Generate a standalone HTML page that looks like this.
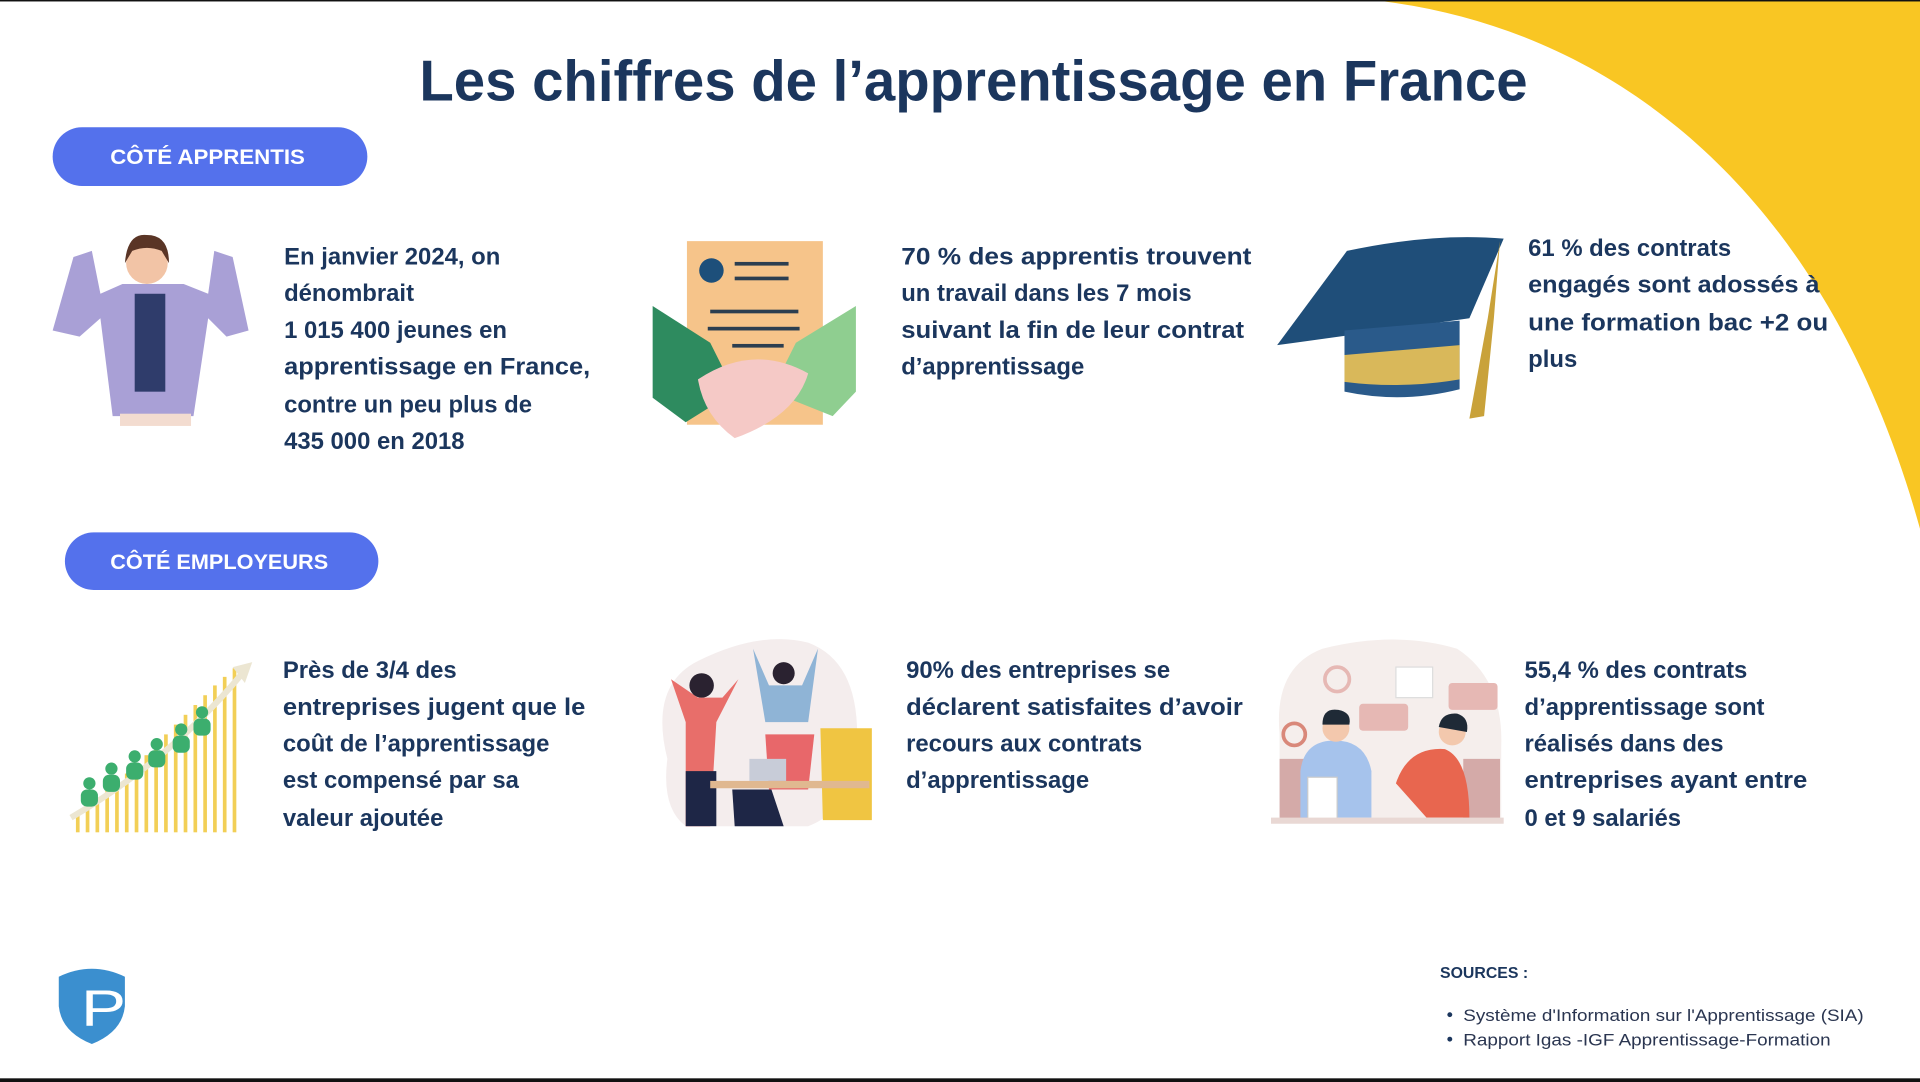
<!DOCTYPE html>
<html><head><meta charset="utf-8"><style>
html,body{margin:0;padding:0;background:#fff;width:1920px;height:1082px;overflow:hidden}
svg{display:block}
text{font-family:"Liberation Sans",sans-serif}
.t{font-size:19.5px;font-weight:bold;fill:#1b365d}
</style></head><body>
<svg width="1920" height="1082" viewBox="0 0 1568 884" preserveAspectRatio="none">
<rect x="0" y="0" width="1568" height="884" fill="#fff"/>
<path d="M1120,0 C1310,20 1490,150 1568,432 L1568,0 Z" fill="#f9c623"/>
<rect x="0" y="0" width="1568" height="1.2" fill="#111"/>
<rect x="0" y="881" width="1568" height="3" fill="#111"/>
<text x="795" y="82" text-anchor="middle" font-size="47" font-weight="bold" fill="#1b365d" textLength="905" lengthAdjust="spacingAndGlyphs">Les chiffres de l’apprentissage en France</text>
<rect x="43" y="104" width="257" height="48" rx="24" fill="#5471ec"/>
<text x="90" y="134" font-size="17" font-weight="bold" fill="#fff" textLength="159" lengthAdjust="spacingAndGlyphs">CÔTÉ APPRENTIS</text>
<rect x="53" y="435" width="256" height="47" rx="23.5" fill="#5471ec"/>
<text x="90" y="465" font-size="17" font-weight="bold" fill="#fff" textLength="178" lengthAdjust="spacingAndGlyphs">CÔTÉ EMPLOYEURS</text>

<g class="t">
<text class="t" x="232" y="216">En janvier 2024, on</text>
<text class="t" x="232" y="246">dénombrait</text>
<text class="t" x="232" y="276">1 015 400 jeunes en</text>
<text class="t" x="232" y="306" textLength="250" lengthAdjust="spacingAndGlyphs">apprentissage en France,</text>
<text class="t" x="232" y="337">contre un peu plus de</text>
<text class="t" x="232" y="367">435 000 en 2018</text>

<text class="t" x="736" y="216" textLength="286" lengthAdjust="spacingAndGlyphs">70 % des apprentis trouvent</text>
<text class="t" x="736" y="246">un travail dans les 7 mois</text>
<text class="t" x="736" y="276" textLength="280" lengthAdjust="spacingAndGlyphs">suivant la fin de leur contrat</text>
<text class="t" x="736" y="306">d’apprentissage</text>

<text class="t" x="1248" y="209">61 % des contrats</text>
<text class="t" x="1248" y="239" textLength="238" lengthAdjust="spacingAndGlyphs">engagés sont adossés à</text>
<text class="t" x="1248" y="270" textLength="245" lengthAdjust="spacingAndGlyphs">une formation bac +2 ou</text>
<text class="t" x="1248" y="300">plus</text>

<text class="t" x="231" y="554">Près de 3/4 des</text>
<text class="t" x="231" y="584" textLength="247" lengthAdjust="spacingAndGlyphs">entreprises jugent que le</text>
<text class="t" x="231" y="614">coût de l’apprentissage</text>
<text class="t" x="231" y="644">est compensé par sa</text>
<text class="t" x="231" y="675">valeur ajoutée</text>

<text class="t" x="740" y="554">90% des entreprises se</text>
<text class="t" x="740" y="584" textLength="275" lengthAdjust="spacingAndGlyphs">déclarent satisfaites d’avoir</text>
<text class="t" x="740" y="614">recours aux contrats</text>
<text class="t" x="740" y="644">d’apprentissage</text>

<text class="t" x="1245" y="554">55,4 % des contrats</text>
<text class="t" x="1245" y="584">d’apprentissage sont</text>
<text class="t" x="1245" y="614">réalisés dans des</text>
<text class="t" x="1245" y="644" textLength="231" lengthAdjust="spacingAndGlyphs">entreprises ayant entre</text>
<text class="t" x="1245" y="675">0 et 9 salariés</text>
</g>

<!-- woman -->
<g>
<path d="M60,210 L75,205 L82,240 L100,232 L150,232 L170,240 L175,205 L190,210 L203,270 L185,275 L170,260 L158,340 L92,340 L82,260 L65,275 L43,270 Z" fill="#a9a0d6"/>
<rect x="110" y="240" width="25" height="80" fill="#2f3c6b"/>
<circle cx="120" cy="215" r="17" fill="#f2c4a6"/>
<path d="M102,215 Q104,190 120,192 Q138,192 138,215 L132,205 Q120,200 108,205 Z" fill="#5a3526"/>
<rect x="98" y="338" width="58" height="10" fill="#f3dcd0"/>
</g>
<!-- handshake -->
<g>
<rect x="561" y="197" width="111" height="150" fill="#f6c48a"/>
<circle cx="581" cy="221" r="10" fill="#1d4f7a"/>
<rect x="600" y="214" width="44" height="3" fill="#2c3e50"/>
<rect x="600" y="226" width="44" height="3" fill="#2c3e50"/>
<rect x="580" y="253" width="72" height="3" fill="#2c3e50"/>
<rect x="578" y="267" width="75" height="3" fill="#2c3e50"/>
<rect x="598" y="281" width="42" height="3" fill="#2c3e50"/>
<path d="M533,250 L580,280 L600,320 L560,345 L533,325 Z" fill="#2e8b5f"/>
<path d="M699,250 L650,280 L630,320 L680,340 L699,320 Z" fill="#8fce90"/>
<path d="M570,310 Q615,280 660,305 Q650,340 600,358 Q575,340 570,310 Z" fill="#f5c9c6"/>
</g>
<!-- cap -->
<g>
<path d="M1043,282 L1100,205 Q1170,190 1228,195 L1200,260 Q1130,270 1043,282 Z" fill="#1f4e79"/>
<path d="M1098,270 L1192,262 L1192,318 Q1145,330 1098,320 Z" fill="#2a5a8a"/>
<path d="M1098,290 L1192,282 L1192,310 Q1145,318 1098,312 Z" fill="#d9b85a"/>
<path d="M1225,197 L1220,260 L1212,340 L1200,342 L1215,260 Z" fill="#c9a23a"/>
</g>
<!-- chart -->
<g>
<g fill="#f2cf56">
<rect x="62" y="665" width="3" height="15"/><rect x="70" y="660" width="3" height="20"/><rect x="78" y="654" width="3" height="26"/><rect x="86" y="646" width="3" height="34"/><rect x="94" y="640" width="3" height="40"/><rect x="102" y="632" width="3" height="48"/><rect x="110" y="625" width="3" height="55"/><rect x="118" y="617" width="3" height="63"/><rect x="126" y="608" width="3" height="72"/><rect x="134" y="600" width="3" height="80"/><rect x="142" y="592" width="3" height="88"/><rect x="150" y="584" width="3" height="96"/><rect x="158" y="576" width="3" height="104"/><rect x="166" y="568" width="3" height="112"/><rect x="174" y="560" width="3" height="120"/><rect x="182" y="553" width="3" height="127"/><rect x="190" y="546" width="3" height="134"/>
</g>
<path d="M58,668 Q140,620 198,550" stroke="#ece6d2" stroke-width="5" fill="none"/>
<path d="M190,545 L206,541 L200,558 Z" fill="#ece6d2"/>
<g fill="#3cae6e">
<circle cx="73" cy="640" r="5"/><rect x="66" y="645" width="14" height="14" rx="5"/>
<circle cx="91" cy="628" r="5"/><rect x="84" y="633" width="14" height="14" rx="5"/>
<circle cx="110" cy="618" r="5"/><rect x="103" y="623" width="14" height="14" rx="5"/>
<circle cx="128" cy="608" r="5"/><rect x="121" y="613" width="14" height="14" rx="5"/>
<circle cx="148" cy="596" r="5"/><rect x="141" y="601" width="14" height="14" rx="5"/>
<circle cx="165" cy="582" r="5"/><rect x="158" y="587" width="14" height="14" rx="5"/>
</g>
</g>
<!-- group -->
<g>
<path d="M545,620 Q530,560 570,540 Q620,515 660,525 Q700,540 700,600 Q700,660 660,675 L560,675 Q540,660 545,620 Z" fill="#f4eded"/>
<path d="M548,555 L560,590 L560,675 L580,675 L585,590 L603,555 L590,570 L570,570 Z" fill="#e86e6a"/>
<rect x="560" y="630" width="25" height="45" fill="#1e2646"/>
<circle cx="573" cy="560" r="10" fill="#2a2230"/>
<path d="M615,530 L625,590 L660,590 L668,530 L655,560 L628,560 Z" fill="#8fb4d6"/>
<circle cx="640" cy="550" r="9" fill="#2a2230"/>
<path d="M625,600 L665,600 L660,645 L628,645 Z" fill="#e8676a"/>
<path d="M670,595 L712,595 L712,670 L672,670 Z" fill="#f0c542"/>
<rect x="580" y="638" width="130" height="6" fill="#e0b890"/>
<rect x="612" y="620" width="30" height="18" fill="#c8ccd8"/>
<path d="M598,645 L630,645 L640,675 L600,675 Z" fill="#1e2646"/>
</g>
<!-- meeting -->
<g>
<path d="M1045,600 Q1040,545 1080,530 Q1140,515 1190,530 Q1228,555 1226,610 L1226,670 L1045,670 Z" fill="#f5eeec"/>
<rect x="1045" y="620" width="30" height="50" fill="#d4aaa8"/>
<rect x="1195" y="620" width="30" height="50" fill="#d4aaa8"/>
<path d="M1062,630 Q1065,605 1090,605 Q1115,605 1120,630 L1120,668 L1062,668 Z" fill="#a6c3ec"/>
<circle cx="1091" cy="595" r="11" fill="#f3c8ad"/>
<path d="M1080,592 Q1080,578 1093,580 Q1104,582 1102,592 Z" fill="#1f2a36"/>
<path d="M1140,640 Q1150,610 1180,612 Q1200,620 1200,668 L1165,668 Z" fill="#e8664f"/>
<circle cx="1186" cy="598" r="11" fill="#f3c8ad"/>
<path d="M1175,594 Q1177,582 1190,583 Q1200,586 1198,598 Z" fill="#1f2a36"/>
<rect x="1068" y="635" width="24" height="35" fill="#fff" stroke="#ccc"/>
<rect x="1110" y="575" width="40" height="22" rx="3" fill="#e6b8b4"/>
<rect x="1183" y="558" width="40" height="22" rx="3" fill="#e6b8b4"/>
<rect x="1140" y="545" width="30" height="25" fill="#fff" stroke="#ddd"/>
<circle cx="1092" cy="555" r="10" fill="none" stroke="#e6b8b4" stroke-width="3"/>
<circle cx="1057" cy="600" r="9" fill="none" stroke="#d9887a" stroke-width="3"/>
<rect x="1038" y="668" width="190" height="5" fill="#e9d8d4"/>
</g>
<!-- logo -->
<path d="M48,798 Q75,785 102,798 L102,822 Q100,843 75,853 Q50,843 48,822 Z" fill="#3b8fcf"/>
<text x="66" y="838" font-size="42" fill="#fff" textLength="37" lengthAdjust="spacingAndGlyphs">P</text>

<text x="1176" y="799" font-size="12.5" font-weight="bold" fill="#1b365d" textLength="72" lengthAdjust="spacingAndGlyphs">SOURCES :</text>
<circle cx="1184" cy="829" r="2" fill="#1b365d"/>
<circle cx="1184" cy="849" r="2" fill="#1b365d"/>
<text x="1195" y="834" font-size="13.5" fill="#2a3550" textLength="327" lengthAdjust="spacingAndGlyphs">Système d'Information sur l'Apprentissage (SIA)</text>
<text x="1195" y="854" font-size="13.5" fill="#2a3550" textLength="300" lengthAdjust="spacingAndGlyphs">Rapport Igas -IGF Apprentissage-Formation</text>
</svg>
</body></html>
